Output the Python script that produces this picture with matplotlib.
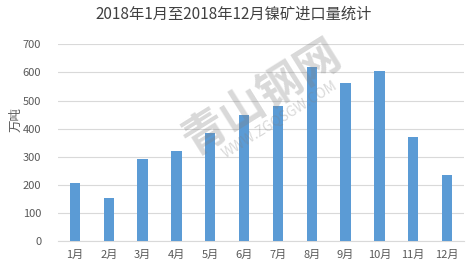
import matplotlib
matplotlib.use("Agg")
import matplotlib.pyplot as plt

plt.rcParams['font.family'] = ['Noto Sans CJK SC', 'DejaVu Sans']

# Data
months = ['1月', '2月', '3月', '4月', '5月', '6月',
          '7月', '8月', '9月', '10月', '11月', '12月']
imports = [207, 154, 293, 321, 384, 449, 481, 620, 564, 606, 371, 235]
yticks = [0, 100, 200, 300, 400, 500, 600, 700]

BAR = '#5B9BD5'
GRID = '#D9D9D9'
TXT = '#595959'

fig = plt.figure(figsize=(4.72, 2.75), dpi=100, facecolor='white')
ax = fig.add_axes([58 / 472, 1 - 241.3 / 275, 406 / 472, 197 / 275])

x = range(len(months))
ax.bar(x, imports, width=0.31, color=BAR, zorder=3)

ax.set_xlim(-0.5, len(months) - 0.5)
ax.set_ylim(0, 700)
ax.set_yticks(yticks)
ax.set_xticks(list(x))
ax.set_xticklabels(months)
ax.tick_params(axis='both', length=0, labelsize=8, colors=TXT)
ax.tick_params(axis='y', pad=12)
ax.tick_params(axis='x', pad=6)

ax.grid(axis='y', color=GRID, lw=0.8, zorder=0)
for side in ['top', 'right', 'left']:
    ax.spines[side].set_visible(False)
ax.spines['bottom'].set_color(GRID)
ax.spines['bottom'].set_linewidth(0.8)

ax.set_ylabel('万吨', fontsize=9, color=TXT)
ax.yaxis.set_label_coords(-0.088, 0.62)

fig.text(234 / 472, 1 - 14 / 275, '2018年1月至2018年12月镍矿进口量统计',
         ha='center', va='center', fontsize=11, color='#404040')

# faint watermark
fig.text(262 / 472, 1 - 97 / 275, '青山钢网', rotation=32, ha='center', va='center',
         fontsize=32, color='#808080', alpha=0.3, fontweight='bold')
fig.text(280 / 472, 1 - 120 / 275, 'WWW.ZGQSGW.COM', rotation=32, ha='center', va='center',
         fontsize=10, color='#808080', alpha=0.3)

fig.savefig('out.png', dpi=100, facecolor='white')
